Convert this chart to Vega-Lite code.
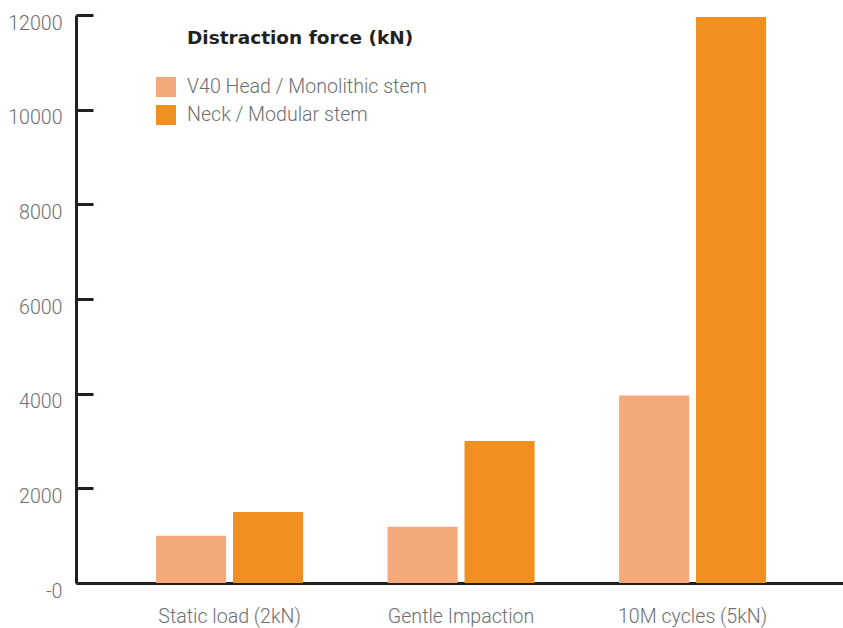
{
  "$schema": "https://vega.github.io/schema/vega-lite/v6.json",
  "width": 767,
  "height": 568,
  "autosize": {"type": "none"},
  "padding": {"left": 76, "top": 15, "right": 0, "bottom": 45},
  "background": "white",
  "title": {
    "text": "Distraction force (kN)",
    "anchor": "start",
    "frame": "group",
    "dx": 111,
    "offset": -34,
    "font": "DejaVu Sans",
    "fontSize": 18.5,
    "fontWeight": "bold",
    "color": "#231f20"
  },
  "data": {
    "values": [
      {"test": "Static load (2kN)", "component": "V40 Head / Monolithic stem", "force": 1000},
      {"test": "Static load (2kN)", "component": "Neck / Modular stem", "force": 1500},
      {"test": "Gentle Impaction", "component": "V40 Head / Monolithic stem", "force": 1190},
      {"test": "Gentle Impaction", "component": "Neck / Modular stem", "force": 3000},
      {"test": "10M cycles (5kN)", "component": "V40 Head / Monolithic stem", "force": 3960},
      {"test": "10M cycles (5kN)", "component": "Neck / Modular stem", "force": 11960}
    ]
  },
  "mark": {"type": "bar"},
  "encoding": {
    "x": {
      "field": "test",
      "type": "nominal",
      "sort": ["Static load (2kN)", "Gentle Impaction", "10M cycles (5kN)"],
      "scale": {"paddingInner": 0.365, "paddingOuter": 0.339, "align": 0.51},
      "axis": {
        "title": null,
        "labelAngle": 0,
        "ticks": false,
        "domainColor": "#231f20",
        "domainWidth": 3,
        "labelPadding": 24,
        "labelFont": "Roboto",
        "labelFontWeight": 300,
        "labelFontSize": 19.6,
        "labelColor": "#6d6e71",
        "labelBaseline": "top"
      }
    },
    "xOffset": {
      "field": "component",
      "type": "nominal",
      "sort": ["V40 Head / Monolithic stem", "Neck / Modular stem"],
      "scale": {"paddingInner": 0.09, "paddingOuter": 0}
    },
    "y": {
      "field": "force",
      "type": "quantitative",
      "scale": {"domain": [0, 12000], "nice": false},
      "axis": {
        "title": null,
        "values": [0, 2000, 4000, 6000, 8000, 10000, 12000],
        "format": "d",
        "labelExpr": "datum.value == 0 ? '-0' : datum.label",
        "grid": false,
        "domainColor": "#231f20",
        "domainWidth": 3,
        "tickColor": "#231f20",
        "tickWidth": 3,
        "tickSize": -17,
        "labelPadding": 31,
        "labelFlush": false,
        "labelFont": "Roboto",
        "labelFontWeight": 300,
        "labelFontSize": 19.6,
        "labelColor": "#6d6e71",
        "labelBaseline": "top",
        "labelOffset": -1
      }
    },
    "color": {
      "field": "component",
      "type": "nominal",
      "scale": {
        "domain": ["V40 Head / Monolithic stem", "Neck / Modular stem"],
        "range": ["#f4a97b", "#f18f20"]
      },
      "legend": {
        "title": null,
        "orient": "none",
        "legendX": 80,
        "legendY": 62,
        "padding": 0,
        "symbolType": "square",
        "symbolSize": 400,
        "symbolStrokeWidth": 0,
        "symbolOpacity": 1,
        "labelFont": "Roboto",
        "labelFontWeight": 300,
        "labelFontSize": 19.6,
        "labelColor": "#6d6e71",
        "labelOffset": 11,
        "labelLimit": 0,
        "rowPadding": 8
      }
    }
  },
  "config": {"view": {"stroke": null}}
}
